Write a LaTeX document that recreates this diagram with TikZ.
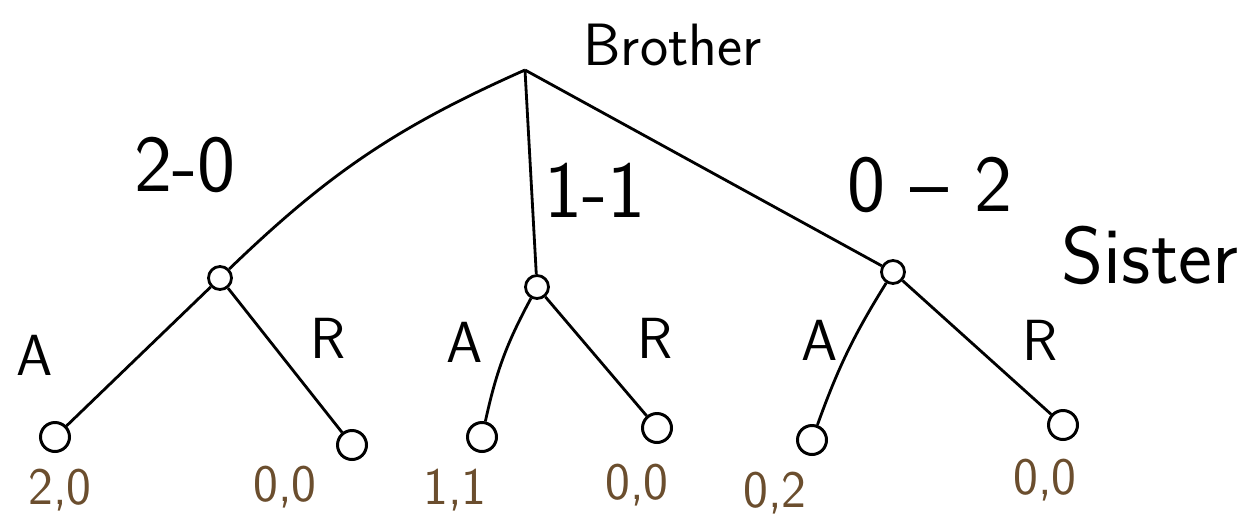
\documentclass[tikz,border=0pt]{standalone}
\usepackage{xcolor}
\usetikzlibrary{positioning}
\definecolor{payoffbrown}{HTML}{6B4E2E}

\begin{document}
\begin{tikzpicture}[
  dec/.style={draw, circle, line width=1.6pt, inner sep=0pt, minimum size=4.6mm},
  leaf/.style={draw, circle, line width=1.7pt, inner sep=0pt, minimum size=5.8mm},
  edge/.style={line width=1.6pt},
  lbl/.style={font=\sffamily\fontsize{46}{50}\selectfont},
  act/.style={font=\sffamily\fontsize{33}{36}\selectfont},
  pay/.style={font=\sffamily\fontsize{30}{34}\selectfont, text=payoffbrown}
]
\useasboundingbox (0,0) rectangle (25.1,10.44);
% brother moves
\coordinate (root) at (10.5,9.04);
\node[font=\sffamily\fontsize{34}{38}\selectfont] (brother) at (13.45,9.54) {Brother};
\node[dec] (s1) at (4.4,4.88) {};
\node[dec] (s2) at (10.74,4.70) {};
\node[dec] (s3) at (17.86,5.0) {};
\draw[edge] (root) to[bend right=10] (s1);
\draw[edge] (root) -- (s2);
\draw[edge] (root) -- (s3);
\node[lbl] (l20) at (3.7,7.14) {2-0};
\node[lbl] (l11) at (11.9,6.64) {1-1};
\node[lbl] (l02) at (18.6,6.74) {0 -- 2};
\node[lbl] (sister) at (23.0,5.34) {Sister};
% sister answers
\node[leaf] (t1) at (1.1,1.7) {};
\node[leaf] (t2) at (7.04,1.54) {};
\node[leaf] (t3) at (9.64,1.7) {};
\node[leaf] (t4) at (13.14,1.88) {};
\node[leaf] (t5) at (16.24,1.64) {};
\node[leaf] (t6) at (21.26,1.94) {};
\draw[edge] (s1)--(t1);
\draw[edge] (s1)--(t2);
\draw[edge] (s2) to[bend right=8] (t3);
\draw[edge] (s2)--(t4);
\draw[edge] (s3) to[bend right=6] (t5);
\draw[edge] (s3)--(t6);
\node[act] (a1) at (0.7,3.34) {A};
\node[act] (r1) at (6.56,3.68) {R};
\node[act] (a2) at (9.3,3.6) {A};
\node[act] (r2) at (13.1,3.68) {R};
\node[act] (a3) at (16.4,3.64) {A};
\node[act] (r3) at (20.8,3.64) {R};
% payoffs
\node[pay] (p1) at (1.2,0.64) {2,0};
\node[pay] (p2) at (5.7,0.7) {0,0};
\node[pay] (p3) at (9.1,0.64) {1,1};
\node[pay] (p4) at (12.74,0.74) {0,0};
\node[pay] (p5) at (15.5,0.58) {0,2};
\node[pay] (p6) at (20.9,0.84) {0,0};
\end{tikzpicture}
\end{document}
